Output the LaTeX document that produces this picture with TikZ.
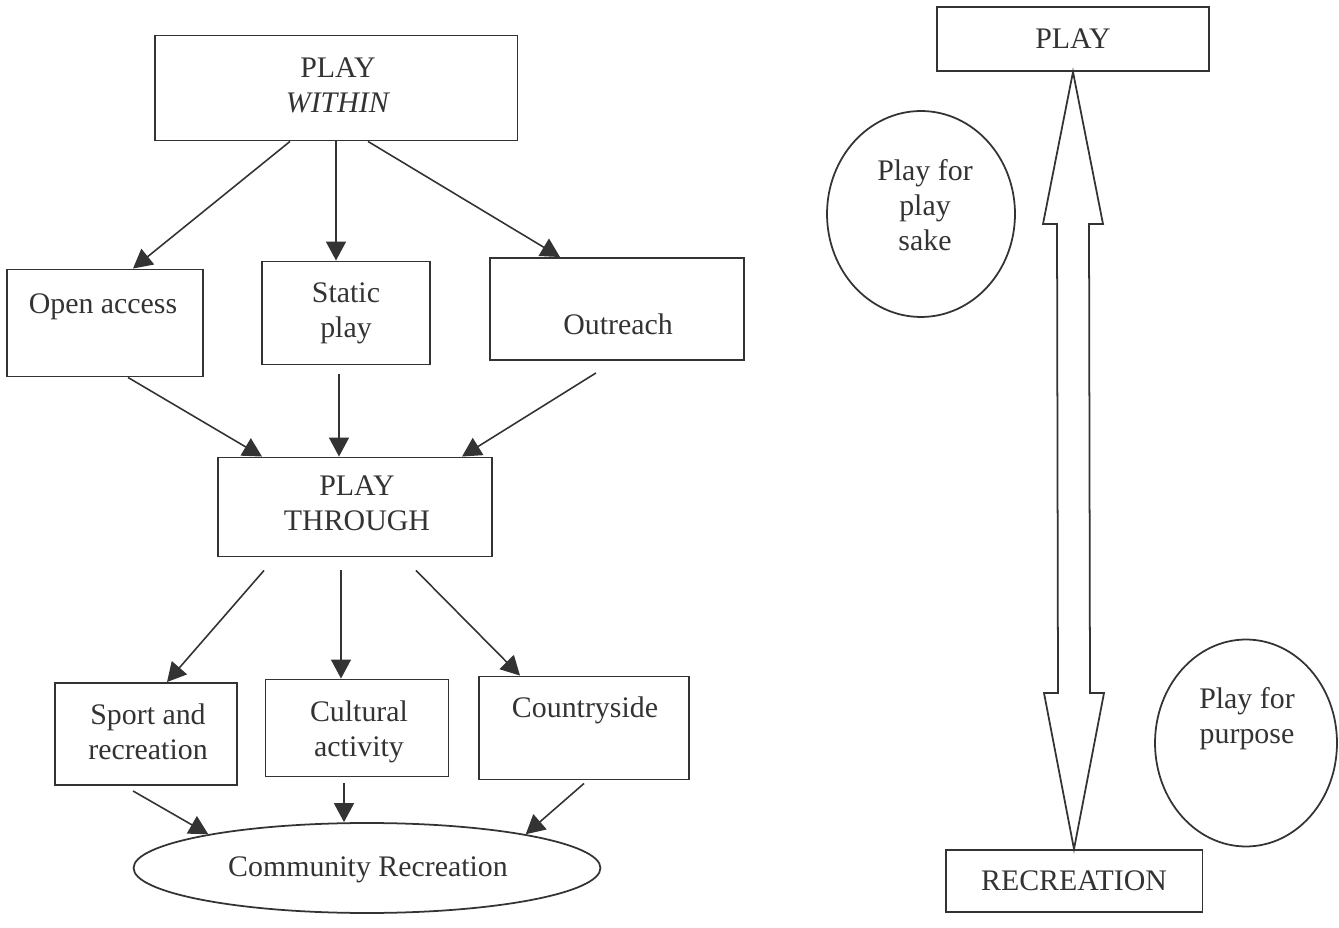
\documentclass[tikz,border=0pt]{standalone}
\usepackage{fontspec}
\setmainfont{Liberation Serif}
\usetikzlibrary{arrows.meta,calc,shapes.geometric}

\begin{document}
\begin{tikzpicture}[x=0.02cm, y=-0.02cm,
      font=\fontsize{17}{20}\selectfont, color=black!80,
      box/.style = {draw, line width=1.1pt, inner sep=0pt},
      blob/.style = {draw, ellipse, line width=1pt, inner sep=0pt},
      txt/.style = {align=center, inner sep=0pt},
      link/.style = {line width=0.9pt, -{Triangle[length=0.38cm, width=0.4cm]}}]
  \useasboundingbox (0,0) rectangle (1339,928);
  % left tree
  \node[box, minimum width=7.26cm, minimum height=2.1cm] (within) at (336,88) {};
  \node[box, minimum width=3.92cm, minimum height=2.14cm] (open) at (105,323) {};
  \node[box, minimum width=3.36cm, minimum height=2.06cm] (static) at (346,313) {};
  \node[box, minimum width=5.08cm, minimum height=2.04cm] (outreach) at (617,309) {};
  \node[box, minimum width=5.48cm, minimum height=1.98cm] (through) at (355,507) {};
  \node[box, minimum width=3.64cm, minimum height=2.04cm] (sport) at (146,734) {};
  \node[box, minimum width=3.66cm, minimum height=1.94cm] (cultural) at (357,728) {};
  \node[box, minimum width=4.2cm, minimum height=2.06cm] (country) at (584,728) {};
  \node[blob, minimum width=9.34cm, minimum height=1.8cm] (community) at (367,868) {};
  \node[txt] (withintxt) at (338,85) {PLAY\\\textit{WITHIN}};
  \node[txt] (opentxt) at (103,307) {Open access};
  \node[txt] (statictxt) at (346,313) {Static\\play};
  \node[txt] (outreachtxt) at (618,324) {Outreach};
  \node[txt] (throughtxt) at (357,503) {PLAY\\THROUGH};
  \node[txt] (sporttxt) at (148,732) {Sport and\\recreation};
  \node[txt] (culturaltxt) at (359,732) {Cultural\\activity};
  \node[txt] (countrytxt) at (585,710) {Countryside};
  \node[txt] (communitytxt) at (368,870) {Community Recreation};
  \draw[link] ($(within.south)+(-46,0)$) -- ($(open.north)+(28,0)$);
  \draw[link] (within.south) -- ($(static.north)+(-10,0)$);
  \draw[link] ($(within.south)+(32,0)$) -- ($(outreach.north)+(-57,0)$);
  \draw[link] ($(open.south)+(23,0)$) -- ($(through.north)+(-93,0)$);
  \draw[link] ($(static.south)+(-7,9)$) -- ($(through.north)+(-16,0)$);
  \draw[link] ($(outreach.south)+(-21,12)$) -- ($(through.north)+(107,0)$);
  \draw[link] ($(through.south)+(-91,13)$) -- ($(sport.north)+(21,0)$);
  \draw[link] ($(through.south)+(-14,13)$) -- ($(cultural.north)+(-16,0)$);
  \draw[link] ($(through.south)+(61,13)$) -- ($(country.north)+(-64,0)$);
  \draw[link] ($(sport.south)+(-13,5)$) -- (community.168);
  \draw[link] ($(cultural.south)+(-13,6)$) -- ($(community.north)+(-23,0)$);
  \draw[link] ($(country.south)+(0,3)$) -- (community.12);
  % right scale
  \node[box, minimum width=5.44cm, minimum height=1.28cm] (play) at (1073,39) {PLAY};
  \node[box, minimum width=5.14cm, minimum height=1.24cm] (rec) at (1074,881) {RECREATION};
  \node[blob, minimum width=3.76cm, minimum height=4.12cm] (sake) at (921,214) {};
  \node[blob, minimum width=3.64cm, minimum height=4.14cm] (purpose) at (1246,743) {};
  \node[txt] (saketxt) at (925,205) {Play for\\play\\sake};
  \node[txt] (purposetxt) at (1247,719) {Play for\\purpose};
  \draw[line width=1pt] (play.south) -- ++(30,152) -- ++(-14,0)
    -- ($(rec.north)+(16,-156)$) -- ++(14,0) -- (rec.north) -- ++(-30,-156)
    -- ++(14,0) -- ($(play.south)+(-16,152)$) -- ++(-14,0) -- cycle;
\end{tikzpicture}
\end{document}
